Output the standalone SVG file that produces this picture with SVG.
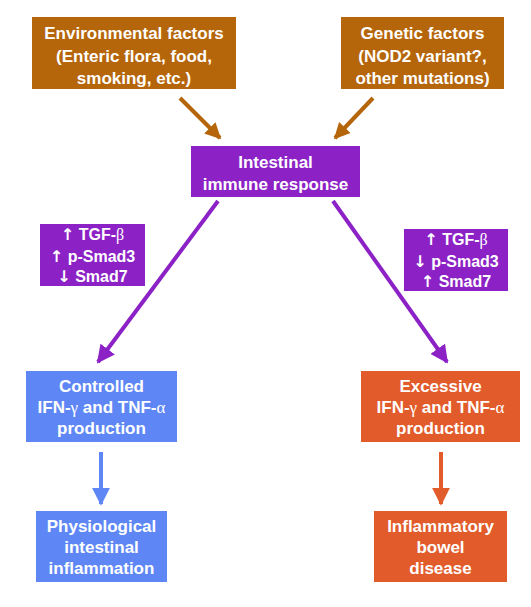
<svg xmlns="http://www.w3.org/2000/svg" width="531" height="607" viewBox="0 0 531 607">
<defs>
<style>
text{font-family:"Liberation Sans","DejaVu Sans",Arial,sans-serif;font-weight:bold;fill:#fff;text-anchor:middle}
.t17{font-size:17px}
.t15{font-size:16px}
.g{font-family:"Liberation Serif","DejaVu Serif",serif;font-weight:normal}
.ar{font-family:"DejaVu Sans",sans-serif;font-weight:bold}
.brown{fill:#B5650A}
.purple{fill:#8C22C6}
.blue{fill:#5E87F5}
.orange{fill:#E25B2A}
.ln{fill:none;stroke-width:4}
</style>
<marker id="ab" viewBox="0 0 10 10" refX="9" refY="5" markerWidth="16" markerHeight="16" markerUnits="userSpaceOnUse" orient="auto"><path d="M0,0 L10,5 L0,10 Z" fill="#B5650A"/></marker>
<marker id="ap" viewBox="0 0 10 10" refX="9" refY="5" markerWidth="18" markerHeight="18" markerUnits="userSpaceOnUse" orient="auto"><path d="M0,0 L10,5 L0,10 Z" fill="#8C22C6"/></marker>
<marker id="abl" viewBox="0 0 10 10" refX="9" refY="5" markerWidth="18" markerHeight="18" markerUnits="userSpaceOnUse" orient="auto"><path d="M0,0 L10,5 L0,10 Z" fill="#5E87F5"/></marker>
<marker id="ao" viewBox="0 0 10 10" refX="9" refY="5" markerWidth="18" markerHeight="18" markerUnits="userSpaceOnUse" orient="auto"><path d="M0,0 L10,5 L0,10 Z" fill="#E25B2A"/></marker>
</defs>
<rect width="531" height="607" fill="#fff"/>
<g id="connectors">
<line class="ln" x1="180" y1="98" x2="220" y2="138" stroke="#B5650A" marker-end="url(#ab)"/>
<line class="ln" x1="373" y1="98" x2="335" y2="138" stroke="#B5650A" marker-end="url(#ab)"/>
<line class="ln" x1="218" y1="201" x2="98" y2="362" stroke="#8C22C6" marker-end="url(#ap)"/>
<line class="ln" x1="333" y1="201" x2="447" y2="362" stroke="#8C22C6" marker-end="url(#ap)"/>
<line class="ln" x1="101" y1="452" x2="101" y2="504" stroke="#5E87F5" marker-end="url(#abl)"/>
<line class="ln" x1="441" y1="452" x2="441" y2="504" stroke="#E25B2A" marker-end="url(#ao)"/>
</g>
<g id="env">
<rect class="brown" x="32" y="17" width="204" height="72"/>
<text class="t17" x="134" y="39">Environmental factors</text>
<text class="t17" x="134" y="62">(Enteric flora, food,</text>
<text class="t17" x="134" y="84">smoking, etc.)</text>
</g>
<g id="genetic">
<rect class="brown" x="341" y="17" width="163" height="72"/>
<text class="t17" x="422.5" y="39">Genetic factors</text>
<text class="t17" x="422.5" y="62">(NOD2 variant?,</text>
<text class="t17" x="422.5" y="84">other mutations)</text>
</g>
<g id="immune">
<rect class="purple" x="191" y="146" width="169" height="51"/>
<text class="t17" x="275.5" y="168">Intestinal</text>
<text class="t17" x="275.5" y="190">immune response</text>
</g>
<g id="markers-left">
<rect class="purple" x="40" y="224" width="105" height="62"/>
<text class="t15" x="92.5" y="240"><tspan class="ar">↑</tspan> TGF-<tspan class="g">β</tspan></text>
<text class="t15" x="92.5" y="262"><tspan class="ar">↑</tspan> p-Smad3</text>
<text class="t15" x="92.5" y="282"><tspan class="ar">↓</tspan> Smad7</text>
</g>
<g id="markers-right">
<rect class="purple" x="404" y="229" width="104" height="62"/>
<text class="t15" x="456" y="245"><tspan class="ar">↑</tspan> TGF-<tspan class="g">β</tspan></text>
<text class="t15" x="456" y="267"><tspan class="ar">↓</tspan> p-Smad3</text>
<text class="t15" x="456" y="287"><tspan class="ar">↑</tspan> Smad7</text>
</g>
<g id="controlled">
<rect class="blue" x="26" y="371" width="151" height="71"/>
<text class="t17" x="101.5" y="392">Controlled</text>
<text class="t17" x="101.5" y="413">IFN-<tspan class="g">γ</tspan> and TNF-<tspan class="g">α</tspan></text>
<text class="t17" x="101.5" y="434">production</text>
</g>
<g id="excessive">
<rect class="orange" x="361" y="371" width="159" height="71"/>
<text class="t17" x="440.5" y="392">Excessive</text>
<text class="t17" x="440.5" y="413">IFN-<tspan class="g">γ</tspan> and TNF-<tspan class="g">α</tspan></text>
<text class="t17" x="440.5" y="434">production</text>
</g>
<g id="physiological">
<rect class="blue" x="36" y="511" width="131" height="71"/>
<text class="t17" x="101.5" y="532">Physiological</text>
<text class="t17" x="101.5" y="553">intestinal</text>
<text class="t17" x="101.5" y="574">inflammation</text>
</g>
<g id="ibd">
<rect class="orange" x="374" y="511" width="133" height="71"/>
<text class="t17" x="440.5" y="532">Inflammatory</text>
<text class="t17" x="440.5" y="553">bowel</text>
<text class="t17" x="440.5" y="574">disease</text>
</g>
</svg>
